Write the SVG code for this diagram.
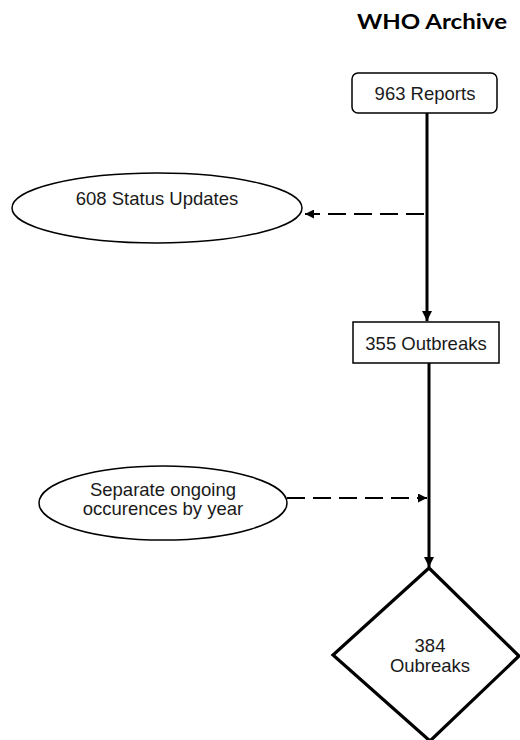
<svg xmlns="http://www.w3.org/2000/svg" width="520" height="740" viewBox="0 0 520 740">
  <style>
    .lbl { font-family: "Liberation Sans", Arial, sans-serif; font-size: 18.5px; fill: #1a1a1a; text-anchor: middle; }
    .title { font-family: Lato, "Open Sans", sans-serif; font-weight: bold; font-size: 21px; fill: #000; text-anchor: middle; }
    .box { fill: #fff; stroke: #000; stroke-width: 1.5; }
    .oval { fill: #fff; stroke: #000; stroke-width: 1.5; }
    .solid { fill: none; stroke: #000; stroke-width: 3; }
    .dash { fill: none; stroke: #000; stroke-width: 2.2; stroke-dasharray: 18 8; }
  </style>
  <defs>
    <marker id="tip" viewBox="0 0 10 10" refX="10" refY="5" markerWidth="10" markerHeight="10" markerUnits="userSpaceOnUse" orient="auto">
      <path d="M0,0 L10,5 L0,10 Z" fill="#000"/>
    </marker>
    <marker id="tipSmall" viewBox="0 0 10 10" refX="10" refY="5" markerWidth="9" markerHeight="9" markerUnits="userSpaceOnUse" orient="auto">
      <path d="M0,0 L10,5 L0,10 Z" fill="#000"/>
    </marker>
  </defs>

  <text class="title" x="432" y="29" textLength="150" lengthAdjust="spacingAndGlyphs">WHO Archive</text>

  <g id="connectors">
    <line class="solid" x1="427" y1="113" x2="427" y2="321" marker-end="url(#tip)"/>
    <line class="solid" x1="429" y1="363" x2="429" y2="567" marker-end="url(#tip)"/>
    <line class="dash" x1="424" y1="214" x2="305" y2="214" marker-end="url(#tipSmall)"/>
    <line class="dash" x1="287" y1="498" x2="427" y2="498" marker-end="url(#tipSmall)"/>
  </g>

  <g id="reports">
    <rect class="box" x="352" y="73" width="145" height="40" rx="6"/>
    <text class="lbl" x="425" y="100">963 Reports</text>
  </g>

  <g id="status-updates">
    <ellipse class="oval" cx="157" cy="208" rx="145" ry="35"/>
    <text class="lbl" x="157" y="205">608 Status Updates</text>
  </g>

  <g id="outbreaks">
    <rect class="box" x="353" y="322" width="146" height="41"/>
    <text class="lbl" x="426" y="350">355 Outbreaks</text>
  </g>

  <g id="separate-by-year">
    <ellipse class="oval" cx="163" cy="503" rx="124" ry="37"/>
    <text class="lbl" x="163" y="496">Separate ongoing</text>
    <text class="lbl" x="163" y="515">occurences by year</text>
  </g>

  <g id="final-outbreaks">
    <polygon points="429,568 519,656 430,741 333,655" fill="#fff" stroke="#000" stroke-width="3.2" stroke-linejoin="miter"/>
    <text class="lbl" x="430" y="652">384</text>
    <text class="lbl" x="430" y="672">Oubreaks</text>
  </g>
</svg>
